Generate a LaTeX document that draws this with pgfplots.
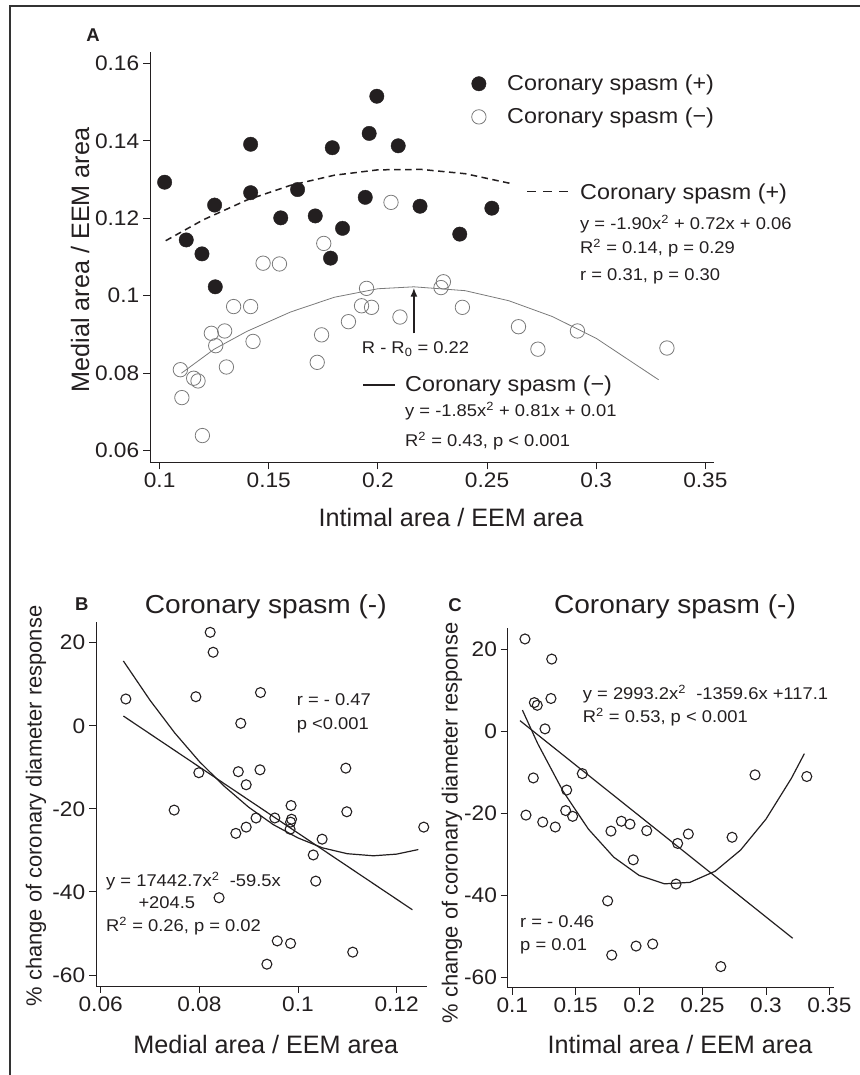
\documentclass[border=0pt]{standalone}
\usepackage{pgfplots}
\pgfplotsset{compat=1.18}
\usepackage{fontspec}
\setmainfont{Liberation Sans}
\usetikzlibrary{arrows.meta}
\definecolor{ink}{HTML}{231F20}
\definecolor{hollow}{HTML}{7A7A7A}
\newcommand\fsz[1]{\fontsize{#1bp}{#1bp}\selectfont}

\pgfplotsset{
  panel/.style={
    scale only axis, axis lines=left,
    axis line style={-, ink, line width=0.9bp},
    tick align=outside, major tick length=7bp,
    tick style={ink, line width=0.9bp},
    tick label style={font=\fsz{21}, text=ink, xscale=1.08},
    /pgf/number format/assume math mode=true,
    scaled ticks=false,
    /pgf/number format/fixed,
    /pgf/number format/precision=2,
    clip=false,
  },
  dots/.style={only marks, mark=o, mark size=5bp, mark options={ink, line width=1.1bp}},
  fit/.style={ink, line width=1.2bp, no marks},
}
\tikzset{
  eq/.style={anchor=base west, font=\fsz{17}, text=ink, xscale=1.08, inner sep=0pt},
  lab/.style={font=\fsz{25.2}, text=ink, inner sep=0pt},
  ylab/.style={font=\fsz{21.9}, text=ink, inner sep=0pt, rotate=90},
  ttl/.style={anchor=base, font=\fsz{26}, text=ink, xscale=1.08, inner sep=0pt},
  let/.style={font=\bfseries\fsz{18.5}, text=ink, inner sep=0pt},
}

\begin{document}
\begin{tikzpicture}[x=1bp, y=1bp]
\useasboundingbox (0,0) rectangle (860,1075);
\draw[line width=2.5bp, black!80] (10,0) -- (10,1069) -- (860,1069);

% ---------- A ----------
\begin{axis}[panel, at={(150bp,612.7bp)}, anchor=south west,
  width=564.3bp, height=410.6bp,
  xmin=0.0956, xmax=0.3541, ymin=0.0570, ymax=0.1630,
  xtick={0.1,0.15,0.2,0.25,0.3,0.35}, ytick={0.06,0.08,0.1,0.12,0.14,0.16},
  legend style={draw=none, fill=none, inner sep=0pt,
    at={(axis description cs:0.5697,0.9481)}, anchor=north west,
    font=\fsz{21.6}, text=ink, row sep=12bp,
    nodes={xscale=1.08},
    /tikz/every odd column/.append style={column sep=19bp}},
  legend cell align=left]
  \addplot[forget plot, hollow, line width=0.8bp] coordinates {(0.110,0.0800)(0.125,0.0862)(0.140,0.0908)(0.160,0.0958)(0.180,0.0996)(0.200,0.1018)(0.2165,0.1023)(0.240,0.1013)(0.260,0.0987)(0.280,0.0946)(0.300,0.0890)(0.3286,0.0783)};
  \addplot[forget plot, ink, line width=1.5bp, dash pattern=on 6.5bp off 4.5bp] coordinates {(0.1028,0.1142)(0.12,0.1196)(0.14,0.1247)(0.16,0.1285)(0.18,0.1311)(0.20,0.1325)(0.22,0.1326)(0.24,0.1315)(0.2606,0.1290)};
  \addplot[only marks, mark=*, mark size=7.2bp, mark options={fill=ink, draw=ink}] coordinates {(0.1023,0.1293)(0.1122,0.1144)(0.1194,0.1108)(0.1252,0.1234)(0.1255,0.1023)(0.1417,0.1391)(0.1417,0.1266)(0.1555,0.1201)(0.1632,0.1274)(0.1713,0.1206)(0.1791,0.1382)(0.1783,0.1097)(0.1838,0.1174)(0.1942,0.1254)(0.1960,0.1419)(0.1995,0.1515)(0.2093,0.1387)(0.2193,0.1231)(0.2375,0.1159)(0.2522,0.1226)};
  \addlegendentry{Coronary spasm (+)}
  \addplot[only marks, mark=o, mark size=7.2bp, mark options={hollow, line width=0.8bp}] coordinates {(0.2060,0.1241)(0.1752,0.1135)(0.1474,0.1084)(0.1549,0.1082)(0.1948,0.1019)(0.2300,0.1036)(0.2289,0.1021)(0.1339,0.0972)(0.1417,0.0972)(0.1925,0.0974)(0.1971,0.0970)(0.2387,0.0970)(0.2101,0.0945)(0.1865,0.0933)(0.1237,0.0903)(0.1298,0.0909)(0.1257,0.0871)(0.1428,0.0882)(0.1742,0.0899)(0.1306,0.0816)(0.1722,0.0828)(0.1095,0.0809)(0.1156,0.0787)(0.1176,0.0780)(0.1102,0.0737)(0.1196,0.0639)(0.2644,0.0920)(0.2914,0.0909)(0.2733,0.0862)(0.3324,0.0865)};
  \addlegendentry{Coronary spasm (−)}
  \draw[ink, line width=2bp, -{Latex[length=9bp,width=7bp]}] (axis cs:0.2165,0.0903) -- (axis cs:0.2165,0.1021);
\end{axis}
\node[let] at (93,1040) {A};
\node[lab] at (451,558) {Intimal area / EEM area};
\node[lab, rotate=90] at (80,815) {Medial area / EEM area};
\draw[ink, line width=1.6bp, dash pattern=on 9bp off 7bp] (527,883.3) -- (570,883.3);
\node[eq, font=\fsz{21.6}] at (580,875) {Coronary spasm (+)};
\node[eq] at (580,845) {y = -1.90x\textsuperscript{2} + 0.72x + 0.06};
\node[eq] at (580,821) {R\textsuperscript{2} = 0.14, p = 0.29};
\node[eq] at (580,794.3) {r = 0.31, p = 0.30};
\node[eq] at (361.7,721) {R - R\textsubscript{0} = 0.22};
\draw[ink, line width=2.2bp] (363,690) -- (395,690);
\node[eq, font=\fsz{21.6}] at (405,683.3) {Coronary spasm (−)};
\node[eq] at (405,658.3) {y = -1.85x\textsuperscript{2} + 0.81x + 0.01};
\node[eq] at (405,628.3) {R\textsuperscript{2} = 0.43, p < 0.001};

% ---------- B ----------
\begin{axis}[panel, at={(96bp,89bp)}, anchor=south west,
  width=330.7bp, height=364.3bp,
  xmin=0.05905, xmax=0.1261, ymin=-62.65, ymax=25.06,
  xtick={0.06,0.08,0.1,0.12}, ytick={-60,-40,-20,0,20}]
  \addplot[fit] coordinates {(0.0646,2.35)(0.1232,-44.3)};
  \addplot[fit] coordinates {(0.0646,15.6)(0.070,6.15)(0.075,-1.7)(0.080,-8.6)(0.085,-14.5)(0.090,-19.6)(0.095,-23.8)(0.100,-27.0)(0.105,-29.4)(0.110,-30.8)(0.1153,-31.3)(0.120,-30.9)(0.1244,-29.8)};
  \addplot[dots] coordinates {(0.0651,6.45)(0.0822,22.5)(0.0828,17.7)(0.0793,7.0)(0.0924,8.0)(0.0884,0.6)(0.0799,-11.3)(0.0879,-11.05)(0.0923,-10.6)(0.0895,-14.2)(0.1097,-10.2)(0.0749,-20.3)(0.0986,-19.2)(0.1099,-20.7)(0.0915,-22.2)(0.0953,-22.2)(0.0987,-22.5)(0.0985,-23.2)(0.0895,-24.4)(0.0984,-24.9)(0.0874,-25.9)(0.1049,-27.3)(0.1255,-24.4)(0.1031,-31.1)(0.1036,-37.4)(0.0840,-41.4)(0.0958,-51.8)(0.0985,-52.4)(0.0937,-57.4)(0.1111,-54.5)};
\end{axis}
\node[let] at (81.7,471) {B};
\node[ttl] at (265.8,461.7) {Coronary spasm (-)};
\node[lab, anchor=base] at (265.8,21.7) {Medial area / EEM area};
\node[ylab] at (36,269) {\% change of coronary diameter response};
\node[eq] at (296.7,369) {r = - 0.47};
\node[eq] at (296.7,345.7) {p <0.001};
\node[eq] at (106,188.3) {y = 17442.7x\textsuperscript{2}\ \ -59.5x};
\node[eq] at (138.3,166.7) {+204.5};
\node[eq] at (106,143.3) {R\textsuperscript{2} = 0.26, p = 0.02};

% ---------- C ----------
\begin{axis}[panel, at={(507.7bp,87.3bp)}, anchor=south west,
  width=326.6bp, height=359.4bp,
  xmin=0.0964, xmax=0.3539, ymin=-62.44, ymax=25.1,
  xtick={0.1,0.15,0.2,0.25,0.3,0.35}, ytick={-60,-40,-20,0,20}]
  \addplot[fit] coordinates {(0.1061,2.6)(0.3211,-50.4)};
  \addplot[fit] coordinates {(0.108,5.17)(0.12,-2.95)(0.14,-14.57)(0.16,-23.81)(0.18,-30.65)(0.20,-35.09)(0.22,-37.14)(0.24,-36.79)(0.26,-34.06)(0.28,-28.92)(0.30,-21.39)(0.32,-11.47)(0.3303,-5.43)};
  \addplot[dots] coordinates {(0.1100,22.5)(0.1311,17.6)(0.1174,7.0)(0.1197,6.35)(0.1305,8.0)(0.1258,0.6)(0.1552,-10.3)(0.2914,-10.6)(0.3322,-11.0)(0.1166,-11.35)(0.1429,-14.3)(0.1108,-20.4)(0.1421,-19.3)(0.1476,-20.7)(0.1240,-22.1)(0.1339,-23.3)(0.1860,-21.9)(0.1928,-22.6)(0.1778,-24.3)(0.2060,-24.2)(0.2388,-25.0)(0.2304,-27.3)(0.2733,-25.8)(0.1954,-31.3)(0.2291,-37.2)(0.1752,-41.3)(0.1784,-54.5)(0.1976,-52.3)(0.2107,-51.8)(0.2644,-57.3)};
\end{axis}
\node[let] at (455,470) {C};
\node[ttl] at (675,461.7) {Coronary spasm (-)};
\node[lab, anchor=base] at (680,21) {Intimal area / EEM area};
\node[ylab] at (452,252) {\% change of coronary diameter response};
\node[eq] at (582.7,375.7) {y = 2993.2x\textsuperscript{2}\ \ -1359.6x +117.1};
\node[eq] at (582.7,352.3) {R\textsuperscript{2} = 0.53, p < 0.001};
\node[eq] at (520,147.3) {r = - 0.46};
\node[eq] at (520,124) {p = 0.01};
\end{tikzpicture}
\end{document}
